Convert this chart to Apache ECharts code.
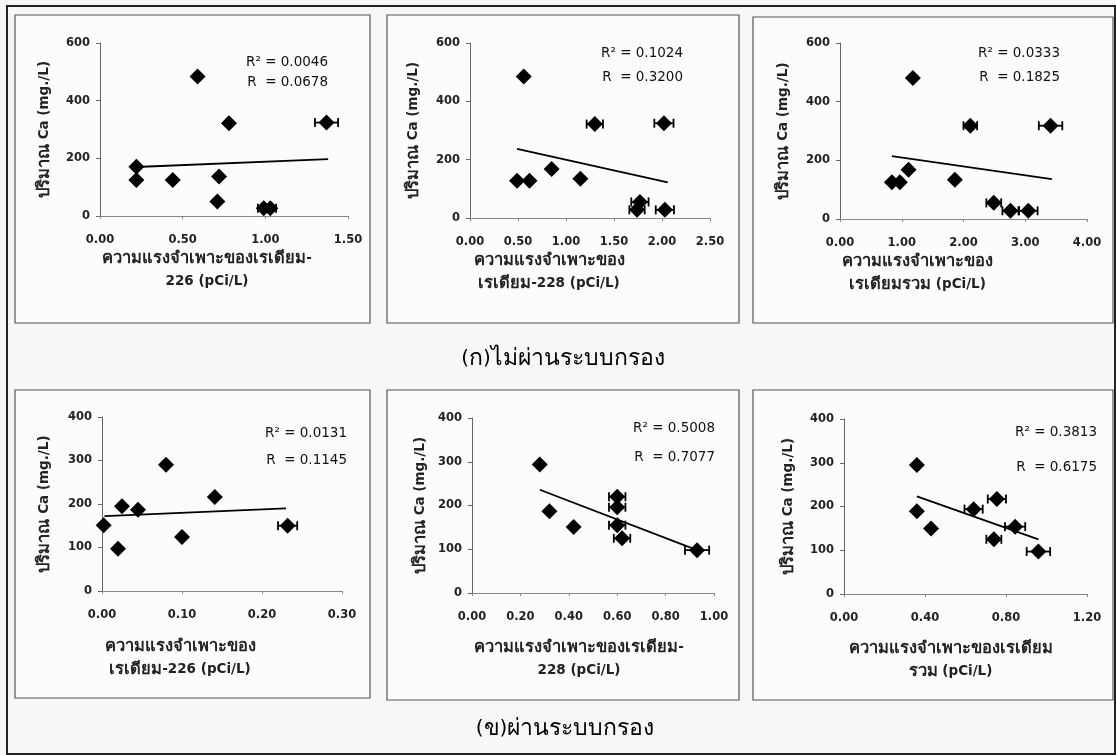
<!DOCTYPE html>
<html>
<head>
<meta charset="utf-8">
<script src="https://cdn.jsdelivr.net/npm/echarts@6/dist/echarts.min.js"></script>
<style>
  html, body { margin: 0; padding: 0; background: #f7f7f7; }
  #chart { width: 1116px; height: 755px; }
</style>
</head>
<body>
<div id="chart"></div>
<script>
// ไม่ผ่านระบบกรอง - เรเดียม-226
var raw226X = [0.22, 0.22, 0.44, 0.59, 0.78, 0.72, 0.71, 0.99, 1.03, 1.37];
var raw226Y = [171, 125, 125, 484, 322, 137, 50, 27, 27, 324];
var raw226Err = [0, 0, 0, 0, 0, 0, 0, 0.035, 0.035, 0.07];
var raw226TrendX = [0.22, 1.38];
var raw226TrendY = [170, 197];

// ไม่ผ่านระบบกรอง - เรเดียม-228
var raw228X = [0.49, 0.62, 0.56, 0.85, 1.15, 1.30, 1.77, 1.74, 2.02, 2.03];
var raw228Y = [128, 128, 485, 168, 135, 322, 55, 28, 325, 28];
var raw228Err = [0, 0, 0, 0, 0, 0.085, 0.09, 0.08, 0.10, 0.095];
var raw228TrendX = [0.49, 2.06];
var raw228TrendY = [237, 122];

// ไม่ผ่านระบบกรอง - เรเดียมรวม
var rawTotX = [0.84, 0.97, 1.11, 1.18, 1.86, 2.11, 2.49, 2.76, 3.05, 3.41];
var rawTotY = [125, 125, 168, 481, 134, 318, 55, 28, 28, 318];
var rawTotErr = [0, 0, 0, 0, 0, 0.11, 0.12, 0.13, 0.15, 0.19];
var rawTotTrendX = [0.84, 3.43];
var rawTotTrendY = [214, 136];

// ผ่านระบบกรอง - เรเดียม-226
var fil226X = [0.002, 0.020, 0.025, 0.045, 0.080, 0.100, 0.141, 0.232];
var fil226Y = [151, 97, 195, 187, 290, 124, 216, 150];
var fil226Err = [0, 0, 0, 0, 0, 0, 0, 0.012];
var fil226TrendX = [0.003, 0.230];
var fil226TrendY = [172, 190];

// ผ่านระบบกรอง - เรเดียม-228
var fil228X = [0.28, 0.32, 0.42, 0.60, 0.60, 0.60, 0.62, 0.93];
var fil228Y = [294, 187, 151, 220, 196, 155, 125, 98];
var fil228Err = [0, 0, 0, 0.034, 0.034, 0.034, 0.034, 0.05];
var fil228TrendX = [0.28, 0.93];
var fil228TrendY = [236, 98];

// ผ่านระบบกรอง - เรเดียมรวม
var filTotX = [0.36, 0.36, 0.43, 0.64, 0.74, 0.755, 0.845, 0.96];
var filTotY = [295, 189, 150, 194, 125, 217, 154, 97];
var filTotErr = [0, 0, 0, 0.045, 0.037, 0.045, 0.05, 0.058];
var filTotTrendX = [0.36, 0.96];
var filTotTrendY = [223, 125];

var r2Labels = ["R\u00b2 = 0.0046", "R\u00b2 = 0.1024", "R\u00b2 = 0.0333", "R\u00b2 = 0.0131", "R\u00b2 = 0.5008", "R\u00b2 = 0.3813"];
var rLabels = ["R  = 0.0678", "R  = 0.3200", "R  = 0.1825", "R  = 0.1145", "R  = 0.7077", "R  = 0.6175"];
var xNames = [
    "ความแรงจำเพาะของเรเดียม-\n226 (pCi/L)",
    "ความแรงจำเพาะของ\nเรเดียม-228 (pCi/L)",
    "ความแรงจำเพาะของ\nเรเดียมรวม (pCi/L)",
    "ความแรงจำเพาะของ\nเรเดียม-226 (pCi/L)",
    "ความแรงจำเพาะของเรเดียม-\n228 (pCi/L)",
    "ความแรงจำเพาะของเรเดียม\nรวม (pCi/L)"
];
var yName = "ปริมาณ Ca (mg./L)";
var xMax = [1.5, 2.5, 4, 0.3, 1, 1.2];
var xStep = [0.5, 0.5, 1, 0.1, 0.2, 0.4];
var yMax = [600, 600, 600, 400, 400, 400];
var yStep = [200, 200, 200, 100, 100, 100];
var captionTop = "(ก)ไม่ผ่านระบบกรอง";
var captionBottom = "(ข)ผ่านระบบกรอง";

var panels = [
    [raw226X, raw226Y, raw226Err, raw226TrendX, raw226TrendY],
    [raw228X, raw228Y, raw228Err, raw228TrendX, raw228TrendY],
    [rawTotX, rawTotY, rawTotErr, rawTotTrendX, rawTotTrendY],
    [fil226X, fil226Y, fil226Err, fil226TrendX, fil226TrendY],
    [fil228X, fil228Y, fil228Err, fil228TrendX, fil228TrendY],
    [filTotX, filTotY, filTotErr, filTotTrendX, filTotTrendY]
];

// layout of each small chart (pixels)
var grids = [
    { left: 100, right: 768, top: 43, bottom: 539 },
    { left: 470, right: 406, top: 43, bottom: 537 },
    { left: 840, right: 29, top: 43, bottom: 536 },
    { left: 102, right: 774, top: 417, bottom: 164 },
    { left: 472, right: 402, top: 418, bottom: 162 },
    { left: 844, right: 29, top: 419, bottom: 161 }
];
var boxes = [
    [15, 15, 355, 308], [387, 15, 352, 308], [753, 17, 360, 306],
    [15, 390, 355, 308], [387, 390, 352, 310], [753, 390, 360, 310]
];
var nameShift = [-34, -82, -92, -84, -28, -30];
var xNameGap = [22, 25, 25, 44, 43, 43];
var yNameGap = [44, 45, 45, 46, 40, 44];
var statPos = [[328, 62, 82], [683, 53, 77], [1060, 53, 77], [347, 433, 460], [715, 428, 457], [1097, 432, 467]];

var font = '"DejaVu Sans", Arial, sans-serif';

//把泰文和拉丁文分成不同的富文本片段
function splitThai(s) {
    return s.split('\n').map(function(line) {
        return line.replace(/([\u0E00-\u0E7F]+)|([^\u0E00-\u0E7F]+)/g, function(m, th) {
            return th ? '{th|' + m + '}' : '{la|' + m + '}';
        });
    }).join('\n');
}
var titleRich = {
    th: { fontFamily: font, fontSize: 16.5, fontWeight: 'bold', color: '#222', lineHeight: 23 },
    la: { fontFamily: font, fontSize: 13.5, fontWeight: 'bold', color: '#222', lineHeight: 23 }
};

var option = {
    backgroundColor: '#f7f7f7',
    animation: false,
    grid: [],
    xAxis: [],
    yAxis: [],
    series: [],
    graphic: []
};

for (var i = 0; i < panels.length; i++) {
    var p = panels[i];
    option.grid.push(grids[i]);
    option.xAxis.push({
        gridIndex: i,
        type: 'value',
        min: 0,
        max: xMax[i],
        interval: xStep[i],
        name: splitThai(xNames[i]),
        nameLocation: 'middle',
        nameGap: xNameGap[i],
        nameTextStyle: { padding: [0, -nameShift[i], 0, 0], verticalAlign: 'top', lineHeight: 23, rich: titleRich },
        axisLine: { lineStyle: { color: '#888', width: 1 } },
        axisTick: { show: true, length: 3, lineStyle: { color: '#888' } },
        axisLabel: {
            margin: 18, fontFamily: font, fontSize: 11.5, fontWeight: 'bold', color: '#222',
            formatter: function(v) { return v.toFixed(2); }
        },
        splitLine: { show: false }
    });
    option.yAxis.push({
        gridIndex: i,
        type: 'value',
        min: 0,
        max: yMax[i],
        interval: yStep[i],
        name: splitThai(yName),
        nameLocation: 'middle',
        nameGap: yNameGap[i],
        nameTextStyle: { rich: titleRich },
        axisLine: { show: true, lineStyle: { color: '#666', width: 1 } },
        axisTick: { show: true, length: 4, lineStyle: { color: '#666' } },
        axisLabel: { margin: 10, fontFamily: font, fontSize: 11.5, fontWeight: 'bold', color: '#222' },
        splitLine: { show: false }
    });

    var pts = [];
    var errRows = [];
    for (var k = 0; k < p[0].length; k++) {
        pts.push([p[0][k], p[1][k]]);
        if (p[2][k] > 0) {
            errRows.push([p[0][k], p[1][k], p[2][k]]);
        }
    }
    //水平误差线
    option.series.push({
        type: 'custom',
        xAxisIndex: i,
        yAxisIndex: i,
        data: errRows,
        z: 2,
        renderItem: function(params, api) {
            var x = api.value(0), y = api.value(1), e = api.value(2);
            var a = api.coord([x - e, y]);
            var b = api.coord([x + e, y]);
            var st = { stroke: '#000', lineWidth: 1.8 };
            return {
                type: 'group',
                children: [
                    { type: 'line', shape: { x1: a[0], y1: a[1], x2: b[0], y2: b[1] }, style: st },
                    { type: 'line', shape: { x1: a[0], y1: a[1] - 4.5, x2: a[0], y2: a[1] + 4.5 }, style: st },
                    { type: 'line', shape: { x1: b[0], y1: b[1] - 4.5, x2: b[0], y2: b[1] + 4.5 }, style: st }
                ]
            };
        }
    });
    option.series.push({
        type: 'scatter',
        xAxisIndex: i,
        yAxisIndex: i,
        data: pts,
        symbol: 'diamond',
        symbolSize: 16,
        itemStyle: { color: '#000', opacity: 1 },
        z: 3
    });
    //趋势线
    option.series.push({
        type: 'line',
        xAxisIndex: i,
        yAxisIndex: i,
        data: [[p[3][0], p[4][0]], [p[3][1], p[4][1]]],
        symbol: 'none',
        lineStyle: { color: '#000', width: 1.8 },
        z: 4
    });

    var bx = boxes[i];
    option.graphic.push({
        type: 'rect',
        shape: { x: bx[0], y: bx[1], width: bx[2], height: bx[3] },
        style: { fill: '#fcfcfc', stroke: '#555', lineWidth: 1.2 },
        z: -10
    });
    option.graphic.push({
        type: 'text', x: statPos[i][0], y: statPos[i][1],
        style: { text: r2Labels[i], fontFamily: font, fontSize: 13.5, fill: '#111', align: 'right', verticalAlign: 'middle' },
        z: 10
    });
    option.graphic.push({
        type: 'text', x: statPos[i][0], y: statPos[i][2],
        style: { text: rLabels[i], fontFamily: font, fontSize: 13.5, fill: '#111', align: 'right', verticalAlign: 'middle' },
        z: 10
    });
}

// outer frame and captions
var captionRich = {
    th: { fontFamily: font, fontSize: 23, color: '#222' },
    la: { fontFamily: font, fontSize: 20, color: '#222' }
};
option.graphic.push({
    type: 'rect',
    shape: { x: 7, y: 6, width: 1108, height: 748 },
    style: { fill: null, stroke: '#222', lineWidth: 2 },
    z: -20
});
option.graphic.push({
    type: 'text', x: 563, y: 359,
    style: { text: splitThai(captionTop), rich: captionRich, align: 'center', verticalAlign: 'middle' }
});
option.graphic.push({
    type: 'text', x: 565, y: 729,
    style: { text: splitThai(captionBottom), rich: captionRich, align: 'center', verticalAlign: 'middle' }
});

var myChart = echarts.init(document.getElementById('chart'));
myChart.setOption(option);
</script>
</body>
</html>
